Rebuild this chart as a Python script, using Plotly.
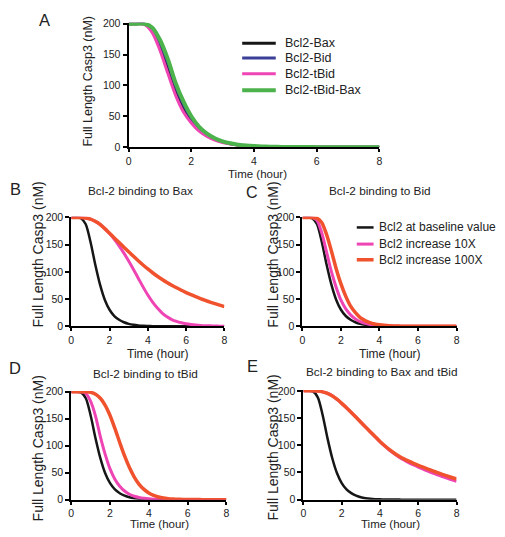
import plotly.graph_objects as go

# ---------------- data ----------------
time_h = [i * 0.25 for i in range(33)]  # 0 .. 8 h, sampled every 15 min
x_ticks = [0, 2, 4, 6, 8]
y_ticks = [0, 50, 100, 150, 200]

# Panel A
a_names = ["Bcl2-Bax", "Bcl2-Bid", "Bcl2-tBid", "Bcl2-tBid-Bax"]
a_bax = [200, 200, 200, 190, 165, 131, 94, 65, 44, 29, 19.5, 13, 8.5, 5.5, 3.6, 2.3, 1.5,
         1.0, 0.6, 0.4, 0.25, 0.15, 0.1, 0.05, 0, 0, 0, 0, 0, 0, 0, 0, 0]
a_bid = [200, 200, 200, 192, 169, 137, 99, 69, 47, 31, 21, 14, 9, 5.9, 3.8, 2.5, 1.6,
         1.05, 0.65, 0.42, 0.28, 0.17, 0.1, 0.05, 0.02, 0, 0, 0, 0, 0, 0, 0, 0]
a_tbid = [200, 200, 199, 186, 157, 120, 84, 57, 39, 26, 17.5, 11.5, 7.5, 4.9, 3.2, 2.1, 1.3,
          0.8, 0.5, 0.3, 0.2, 0.12, 0.08, 0.04, 0.02, 0, 0, 0, 0, 0, 0, 0, 0]
a_tbid_bax = [200, 200, 200, 194, 174, 143, 104, 74, 50, 33, 22, 14.5, 9.5, 6.2, 4.0, 2.6, 1.7,
              1.1, 0.7, 0.45, 0.3, 0.18, 0.1, 0.06, 0.03, 0, 0, 0, 0, 0, 0, 0, 0]

# Panels B-E
be_names = ["Bcl2 at baseline value", "Bcl2 increase 10X", "Bcl2 increase 100X"]
baseline = [200, 200, 199, 188, 156, 114, 77, 49, 30.5, 19, 12, 7.5, 4.5, 2.8, 1.7, 1.0, 0.6,
            0.4, 0.25, 0.15, 0.1, 0.06, 0.03, 0.02, 0, 0, 0, 0, 0, 0, 0, 0, 0]

b_10x = [200, 200, 200, 199, 197, 193, 187.5, 179.5, 170.5, 160, 148, 134.5, 120, 104.5, 88.5, 72.5, 57.5,
         44.5, 33.5, 24.5, 17.5, 12.5, 9, 6.5, 4.7, 3.4, 2.4, 1.7, 1.2, 0.9, 0.6, 0.4, 0.3]
b_100x = [200, 200, 200, 199, 197, 193, 187.5, 179.5, 171, 162.5, 154, 145.5, 137, 128.7, 120.6, 112.8, 105.4,
          98.5, 92.1, 86.2, 80.7, 75.6, 70.8, 66.3, 62.1, 58.2, 54.5, 51, 47.7, 44.6, 41.7, 38.9, 36.3]

c_10x = [200, 200, 200, 195, 172, 137, 101, 72, 48, 32, 21, 13.5, 8.5, 5.4, 3.4, 2.1, 1.3,
         0.8, 0.5, 0.3, 0.2, 0.12, 0.08, 0.04, 0.02, 0, 0, 0, 0, 0, 0, 0, 0]
c_100x = [200, 200, 200, 199, 191, 169, 139, 106, 78, 55, 37, 25, 16, 10.5, 6.8, 4.4, 2.8,
          1.8, 1.1, 0.7, 0.45, 0.3, 0.2, 0.12, 0.08, 0.05, 0.03, 0.02, 0, 0, 0, 0, 0]

d_10x = [200, 200, 200, 197, 182, 155, 117, 84, 57, 38, 25, 16, 10, 6.3, 4, 2.5, 1.5,
         0.95, 0.6, 0.38, 0.24, 0.15, 0.1, 0.06, 0.04, 0.02, 0, 0, 0, 0, 0, 0, 0]
d_100x = [200, 200, 200, 200, 199, 195.5, 188, 175, 156, 132, 106, 81, 59.5, 42, 28.5, 19, 12.3,
          7.8, 4.9, 3.0, 1.9, 1.2, 0.75, 0.45, 0.3, 0.18, 0.1, 0.06, 0.03, 0, 0, 0, 0]

e_10x = [200, 200, 200, 199.5, 198, 195.5, 191, 184.5, 177, 168.8, 160.2, 151.3, 142.3, 133.3, 124.4, 115.6, 106.5,
         98.3, 90.8, 84.1, 78.1, 72.8, 68.1, 63.8, 59.8, 56.0, 52.4, 49, 45.7, 42.5, 39.5, 36.6, 33.8]
e_100x = [200, 200, 200, 199.5, 198, 195.5, 191, 184.5, 177, 168.8, 160.2, 151.3, 142.3, 133.3, 124.4, 115.6, 107,
          99, 91.8, 85.4, 79.8, 74.9, 70.7, 66.8, 63.1, 59.6, 56.2, 52.9, 49.7, 46.6, 43.6, 40.7, 37.9]

panel_titles = ["Bcl-2 binding to Bax", "Bcl-2 binding to Bid",
                "Bcl-2 binding to tBid", "Bcl-2 binding to Bax and tBid"]
panel_letters = ["A", "B", "C", "D", "E"]
x_title = "Time (hour)"
y_title = "Full Length Casp3 (nM)"

# ---------------- styles ----------------
FONT = "Arial, Liberation Sans, Helvetica, sans-serif"
TXT = "#222222"
BLACK = "#161616"
BLUE = "#3b3f98"
MAGENTA = "#ee44b4"
GREEN = "#4cb34c"
RED = "#f0522e"

# page body has an 8px margin: size the figure so it fits the 505x537 window
OFF = 8
FW, FH = 505 - OFF, 537 - OFF


def PX(x):
    return (x - OFF) / FW


def PY(y):
    return 1 - (y - OFF) / FH


fig = go.Figure()

# Panel A
a_series = [a_bax, a_bid, a_tbid, a_tbid_bax]
a_colors = [BLACK, BLUE, MAGENTA, GREEN]
a_widths = [3, 3, 3, 4]
for name, ys, c, w in zip(a_names, a_series, a_colors, a_widths):
    fig.add_trace(go.Scatter(x=time_h, y=ys, mode="lines", name=name, showlegend=False,
                             line=dict(color=c, width=w, shape="spline", smoothing=0.8),
                             xaxis="x", yaxis="y"))

# Panels B-E
be_colors = [BLACK, MAGENTA, RED]
be_widths = [2.5, 3, 3.5]
panels = [("x2", "y2", b_10x, b_100x), ("x3", "y3", c_10x, c_100x),
          ("x4", "y4", d_10x, d_100x), ("x5", "y5", e_10x, e_100x)]
for xa, ya, s10, s100 in panels:
    for name, ys, c, w in zip(be_names, [baseline, s10, s100], be_colors, be_widths):
        fig.add_trace(go.Scatter(x=time_h, y=ys, mode="lines", name=name, showlegend=False,
                                 line=dict(color=c, width=w, shape="spline", smoothing=0.8),
                                 xaxis=xa, yaxis=ya))

tickfont = dict(size=10.5, color=TXT, family=FONT)
common_x = dict(range=[0, 8], tickvals=x_ticks, showline=True, linecolor="black", linewidth=2,
                ticks="outside", ticklen=3, tickwidth=2, tickcolor="black", showgrid=False,
                zeroline=False, tickfont=tickfont)
common_y = dict(range=[0, 201.5], tickvals=y_ticks, showline=True, linecolor="black", linewidth=2,
                ticks="outside", ticklen=4, tickwidth=2, tickcolor="black", showgrid=False,
                zeroline=False, tickfont=tickfont)

# plot areas in reference pixels: (left, right, top, bottom)
boxes = {1: (127, 381, 18, 145), 2: (69, 224, 216, 328), 3: (303, 459, 216, 328),
         4: (69, 226, 394, 505), 5: (304, 459, 393, 505)}
layout = {}
for k, (l, r, t, b) in boxes.items():
    sx = "" if k == 1 else str(k)
    layout["xaxis" + sx] = dict(common_x, domain=[PX(l), PX(r)], anchor="y" + sx)
    layout["yaxis" + sx] = dict(common_y, domain=[PY(b), PY(t)], anchor="x" + sx)
fig.update_layout(**layout)

annotations = []
shapes = []


def ann(text, x, y, size, angle=0, anchor="center"):
    annotations.append(dict(text=text, x=PX(x), y=PY(y), xref="paper", yref="paper",
                            showarrow=False, xanchor=anchor, yanchor="middle", textangle=angle,
                            font=dict(size=size, color=TXT, family=FONT)))


for letter, (lx, ly), size in zip(panel_letters,
                                  [(42, 15), (13, 188), (252, 191), (12, 371), (252, 369)],
                                  [16.5, 16.5, 16, 16.5, 16.5]):
    ann(letter, lx, ly, size)
for t, (tx, ty) in zip(panel_titles, [(139, 190), (382, 190), (144, 377), (384, 375)]):
    ann(t, tx, ty, 11.8)
# axis titles
for (xx, xy), size in zip([(258, 172.5), (157, 356), (392, 356), (158, 530), (392, 530)],
                          [11.5, 12, 12, 11.5, 11.5]):
    ann(x_title, xx, xy, size)
for (yx, yy), size in zip([(85, 78), (35, 255), (273, 255), (35, 453), (273, 452)],
                          [12.5, 14, 14, 14, 14]):
    ann(y_title, yx, yy, size, angle=-90)

# legend A
for name, c, w, row in zip(a_names, a_colors, a_widths, [39, 54, 70, 87]):
    shapes.append(dict(type="line", xref="paper", yref="paper", x0=PX(242), x1=PX(276),
                       y0=PY(row), y1=PY(row), line=dict(color=c, width=w)))
    ann(name, 283, row, 12.5, anchor="left")
# legend C
for name, c, w, row in zip(be_names, be_colors, be_widths, [227, 244, 260]):
    shapes.append(dict(type="line", xref="paper", yref="paper", x0=PX(358), x1=PX(375),
                       y0=PY(row), y1=PY(row), line=dict(color=c, width=w)))
    ann(name, 378, row, 12, anchor="left")

fig.update_layout(
    width=FW, height=FH,
    margin=dict(l=0, r=0, t=0, b=0),
    paper_bgcolor="white", plot_bgcolor="white",
    font=dict(family=FONT, color=TXT),
    annotations=annotations, shapes=shapes, showlegend=False,
)

fig.write_html("out.html")
